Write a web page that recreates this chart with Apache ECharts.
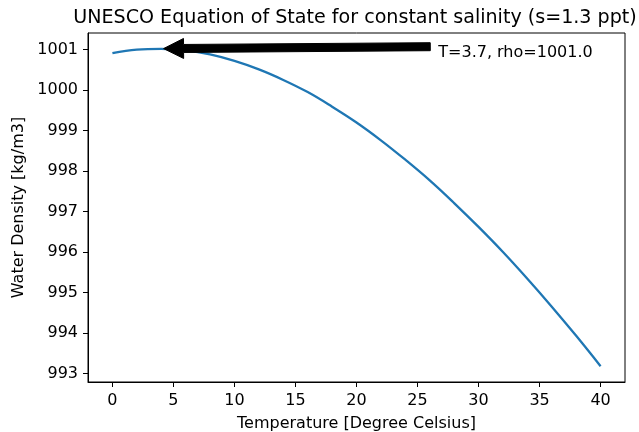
<!DOCTYPE html>
<html>
<head>
<meta charset="utf-8">
<script src="https://cdn.jsdelivr.net/npm/echarts@6/dist/echarts.min.js"></script>
<style>
  html, body { margin: 0; padding: 0; background: #fff; }
  #chart { width: 639px; height: 432px; }
</style>
</head>
<body>
<div id="chart"></div>
<script>
// 温度 (摄氏度) 与密度 (kg/m3)
const temps = [0, 2, 4, 6, 8, 10, 12, 14, 16, 18, 20, 22, 24, 26, 28, 30, 32, 34, 36, 38, 40];
const densities = [1000.91, 1001.00, 1001.02, 1000.98, 1000.88, 1000.72, 1000.51, 1000.25, 999.95, 999.59,
    999.20, 998.76, 998.28, 997.77, 997.21, 996.62, 996.00, 995.34, 994.65, 993.93, 993.18];

const xTicks = [0, 5, 10, 15, 20, 25, 30, 35, 40];
const yTicks = [993, 994, 995, 996, 997, 998, 999, 1000, 1001];

// 注释: 最大密度点 与 文字位置
const annoPoint = [3.7, 1001.0];
const annoTextPos = [26.7, 1000.8];
const annoText = 'T=3.7, rho=1001.0';
const titleText = 'UNESCO Equation of State for constant salinity (s=1.3 ppt)';

const FONT = 'DejaVu Sans';
const FS = 16;

const chart = echarts.init(document.getElementById('chart'));

chart.setOption({
    animation: false,
    grid: {
        left: 88, right: 14, top: 33, bottom: 50,
        outerBoundsMode: 'none', containLabel: false,
        show: true, borderColor: '#000', borderWidth: 1, backgroundColor: 'transparent'
    },
    xAxis: {
        type: 'value', min: -2, max: 42,
        name: 'Temperature [Degree Celsius]', nameLocation: 'middle', nameGap: 34,
        nameTextStyle: { fontFamily: FONT, fontSize: FS, color: '#000' },
        axisLine: { show: true, onZero: false, lineStyle: { color: '#000', width: 1 } },
        axisTick: { show: true, inside: false, length: 5, lineStyle: { color: '#000' }, customValues: xTicks },
        axisLabel: { fontFamily: FONT, fontSize: FS, color: '#000', margin: 11, customValues: xTicks },
        splitLine: { show: false }
    },
    yAxis: {
        type: 'value', min: 992.79, max: 1001.41,
        name: 'Water Density [kg/m3]', nameLocation: 'middle', nameGap: 56,
        nameTextStyle: { fontFamily: FONT, fontSize: FS, color: '#000' },
        axisLine: { show: true, onZero: false, lineStyle: { color: '#000', width: 1 } },
        axisTick: { show: true, inside: false, length: 5, lineStyle: { color: '#000' }, customValues: yTicks },
        axisLabel: {
            fontFamily: FONT, fontSize: FS, color: '#000', margin: 10, customValues: yTicks,
            formatter: v => String(Math.round(v))
        },
        splitLine: { show: false }
    },
    series: [{
        type: 'line',
        data: temps.map((t, i) => [t, densities[i]]),
        showSymbol: false,
        smooth: 0.4,
        lineStyle: { color: '#1f77b4', width: 2.3 },
        itemStyle: { color: '#1f77b4' }
    }]
});

// 箭头注释, 位置由坐标轴换算
const pTip = chart.convertToPixel({ gridIndex: 0 }, annoPoint);
const pText = chart.convertToPixel({ gridIndex: 0 }, annoTextPos);
const tip = [pTip[0] + 6, pTip[1] - 1];
const tail = [pText[0] - 8, pText[1] - 11];
const len = Math.hypot(tail[0] - tip[0], tail[1] - tip[1]);
const u = [(tail[0] - tip[0]) / len, (tail[1] - tip[1]) / len];
const n = [-u[1], u[0]];
const hl = 20, hw = 20, w = 8;
const base = [tip[0] + u[0] * hl, tip[1] + u[1] * hl];
const arrowPts = [
    tip,
    [base[0] + n[0] * hw / 2, base[1] + n[1] * hw / 2],
    [base[0] + n[0] * w / 2, base[1] + n[1] * w / 2],
    [tail[0] + n[0] * w / 2, tail[1] + n[1] * w / 2],
    [tail[0] - n[0] * w / 2, tail[1] - n[1] * w / 2],
    [base[0] - n[0] * w / 2, base[1] - n[1] * w / 2],
    [base[0] - n[0] * hw / 2, base[1] - n[1] * hw / 2]
];

chart.setOption({
    graphic: [
        {
            type: 'text', x: 355, y: 18,
            style: { text: titleText, fontFamily: FONT, fontSize: 19.1, fill: '#000', align: 'center', verticalAlign: 'middle' }
        },
        { type: 'polygon', shape: { points: arrowPts }, style: { fill: '#000', stroke: '#000', lineWidth: 1 }, z: 10 },
        {
            type: 'text', x: pText[0], y: pText[1] - 5,
            style: { text: annoText, fontFamily: FONT, fontSize: FS, fill: '#000', align: 'left', verticalAlign: 'middle' },
            z: 10
        }
    ]
});
</script>
</body>
</html>
